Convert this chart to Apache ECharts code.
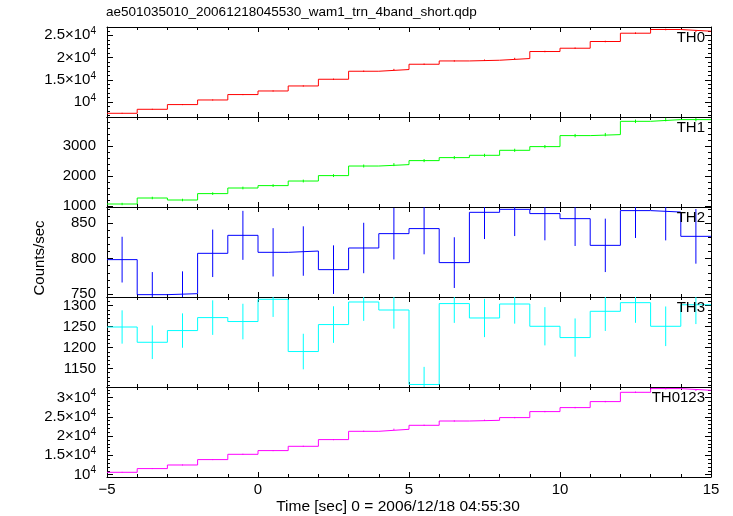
<!DOCTYPE html>
<html>
<head>
<meta charset="utf-8">
<script src="https://cdn.jsdelivr.net/npm/echarts@6/dist/echarts.min.js"></script>
<style>html,body{margin:0;padding:0;background:#fff}#c{width:733px;height:516px}</style>
</head>
<body>
<div id="c"></div>
<script>
// ---- data (1-s bins, centres) ----
const timeCenters = [-4.5,-3.5,-2.5,-1.5,-0.5,0.5,1.5,2.5,3.5,4.5,5.5,6.5,7.5,8.5,9.5,10.5,11.5,12.5,13.5,14.5];
const th0 = [7455,8356,9414,10450,11667,12477,13604,15113,16914,17297,18491,19234,19392,19775,21351,22095,23604,25473,26306,25923];
const th0Err = [110,115,120,125,130,135,140,145,150,150,155,155,160,160,165,165,170,175,175,175];
const th1 = [1067,1267,1200,1413,1600,1680,1833,2013,2333,2380,2513,2613,2690,2857,2980,3347,3380,3823,3880,3880];
const th1Err = [40,42,42,44,45,46,47,48,50,50,51,52,52,53,54,56,56,58,58,58];
const th2 = [798.6,749.3,750.7,807.5,832.8,808.9,810.7,784.5,815,835.2,842.3,794.4,865.2,869.4,863.4,856.3,818.7,867.6,865.6,831.4];
const th2Err = [32.2,31.8,31.4,33.4,34.5,34,34.8,34.2,35.5,36.3,36.2,35.7,37.6,37.6,37.6,38.5,37.6,38.5,39.9,38.5];
const th3 = [1249,1212.6,1240.5,1271.4,1262,1315,1190.5,1254.8,1308.6,1289.5,1112,1304.8,1270.5,1303.8,1250.7,1223.8,1286.4,1307,1250.7,1302];
const th3Err = [39.7,40,41,41.2,42.4,42,42.4,43.6,45,44.4,42,46,45.6,46.8,45.6,45.6,46.8,48,47.2,46];
const th0123 = [10597,11558,12494,13896,15273,16234,17351,19091,21247,21766,22805,23922,24104,24805,26364,27403,28961,31377,32338,31896];
const th0123Err = [120,125,130,135,140,145,150,155,160,162,165,168,170,172,175,178,180,185,188,188];

const panelNames = ['TH0','TH1','TH2','TH3','TH0123'];
const panelColors = ['#ff0000','#00ff00','#0000ff','#00ffff','#ff00ff'];
const yMins = [6620, 967, 746, 1106, 9377];
const yMaxs = [26870, 3967, 872.7, 1320.5, 32753];
const yMajorTicks = [
  [10000,15000,20000,25000],
  [1000,2000,3000],
  [750,800,850],
  [1150,1200,1250,1300],
  [10000,15000,20000,25000,30000]
];
const yMinorStep = [1000, 200, 10, 10, 1000];
const xTickLabels = [-5, 0, 5, 10, 15];
const titleText = 'ae501035010_20061218045530_wam1_trn_4band_short.qdp';
const xTitle = 'Time [sec] 0 = 2006/12/18 04:55:30';
const yTitle = 'Counts/sec';

const values = [th0, th1, th2, th3, th0123];
const errs = [th0Err, th1Err, th2Err, th3Err, th0123Err];

// ---- layout ----
const FONT = 'Liberation Sans, Arial, Helvetica, sans-serif';
const L = 107, R = 22, TOP = 27, H = 90;

function sciLabel(v) {
  if (v >= 10000) {
    const m = v / 10000;
    if (m === 1) return '10{s|4}';
    return m + '×10{s|4}';
  }
  return String(v);
}
function minorList(i) {
  const out = [];
  const st = yMinorStep[i];
  for (let v = Math.ceil(yMins[i] / st) * st; v <= yMaxs[i]; v += st) out.push(+v.toFixed(3));
  return out;
}

const grids = [], xAxes = [], yAxes = [], series = [];
for (let i = 0; i < 5; i++) {
  grids.push({left: L, right: R, top: TOP + H * i, height: H, containLabel: false});
  const isLast = i === 4;
  ['bottom','top'].forEach(function (pos) {
    xAxes.push({
      type: 'value', gridIndex: i, position: pos, min: -5, max: 15, interval: 5,
      axisLine: {show: true, onZero: false, lineStyle: {color: '#000', width: 1}},
      axisTick: {show: true, inside: true, length: 5, lineStyle: {color: '#000'}},
      minorTick: {show: true, splitNumber: 5, length: 3, lineStyle: {color: '#000'}},
      splitLine: {show: false}, minorSplitLine: {show: false},
      axisLabel: {show: isLast && pos === 'bottom', fontFamily: FONT, fontSize: 15, color: '#000', margin: 5,
        customValues: xTickLabels,
        formatter: function (v) { return String(v).replace('-', '\u2212'); }}
    });
  });
  ['left','right'].forEach(function (pos) {
    // major
    yAxes.push({
      type: 'value', gridIndex: i, position: pos, min: yMins[i], max: yMaxs[i],
      axisLine: {show: true, onZero: false, lineStyle: {color: '#000', width: 1}},
      axisTick: {show: true, inside: true, length: 6, customValues: yMajorTicks[i], lineStyle: {color: '#000'}},
      splitLine: {show: false},
      axisLabel: {show: pos === 'left', customValues: yMajorTicks[i], margin: 11,
        fontFamily: FONT, fontSize: 15, color: '#000',
        formatter: sciLabel,
        rich: {s: {fontSize: 10, fontFamily: FONT, color: '#000', verticalAlign: 'top', padding: [0, 0, 8, 0]}}}
    });
    // minor
    yAxes.push({
      type: 'value', gridIndex: i, position: pos, min: yMins[i], max: yMaxs[i],
      axisLine: {show: false, onZero: false},
      axisTick: {show: true, inside: true, length: 3, customValues: minorList(i), lineStyle: {color: '#000'}},
      splitLine: {show: false},
      axisLabel: {show: false}
    });
  });

  const vals = values[i], er = errs[i];
  const stepData = timeCenters.map(function (c, k) { return [c - 0.5, vals[k]]; });
  stepData.push([timeCenters[timeCenters.length - 1] + 0.5, vals[vals.length - 1]]);
  series.push({
    type: 'line', xAxisIndex: 2 * i, yAxisIndex: 4 * i, step: 'end', data: stepData,
    showSymbol: false, symbol: 'none', lineStyle: {color: panelColors[i], width: 1}, clip: true,
    animation: false, silent: true
  });
  const color = panelColors[i];
  series.push({
    type: 'custom', xAxisIndex: 2 * i, yAxisIndex: 4 * i, animation: false, silent: true,
    data: timeCenters.map(function (c, k) { return [c, vals[k] - er[k], vals[k] + er[k]]; }),
    encode: {x: 0, y: [1, 2]},
    renderItem: function (params, api) {
      const x = api.value(0);
      const p1 = api.coord([x, api.value(1)]);
      const p2 = api.coord([x, api.value(2)]);
      const cs = params.coordSys;
      return {
        type: 'line',
        shape: {x1: p1[0], y1: p1[1], x2: p2[0], y2: p2[1]},
        style: {stroke: color, lineWidth: 1},
        clipPath: {type: 'rect', shape: {x: cs.x, y: cs.y, width: cs.width, height: cs.height}}
      };
    }
  });
}

const graphics = [
  {type: 'text', x: 106, y: 12, style: {text: titleText, font: '13.5px ' + FONT, fill: '#000', align: 'left', verticalAlign: 'middle'}},
  {type: 'text', x: 398, y: 507, style: {text: xTitle, font: '15.5px ' + FONT, fill: '#000', align: 'center', verticalAlign: 'middle'}},
  {type: 'text', x: 40, y: 258, rotation: Math.PI / 2, style: {text: yTitle, font: '15px ' + FONT, fill: '#000', align: 'center', verticalAlign: 'middle'}}
];
panelNames.forEach(function (n, i) {
  graphics.push({type: 'text', x: 705, y: TOP + H * i + 11, z: 100,
    style: {text: n, font: '15px ' + FONT, fill: '#000', align: 'right', verticalAlign: 'middle'}});
});

const chart = echarts.init(document.getElementById('c'), null, {renderer: 'canvas'});
chart.setOption({
  animation: false,
  backgroundColor: '#fff',
  grid: grids, xAxis: xAxes, yAxis: yAxes, series: series,
  graphic: graphics
});
</script>
</body>
</html>
